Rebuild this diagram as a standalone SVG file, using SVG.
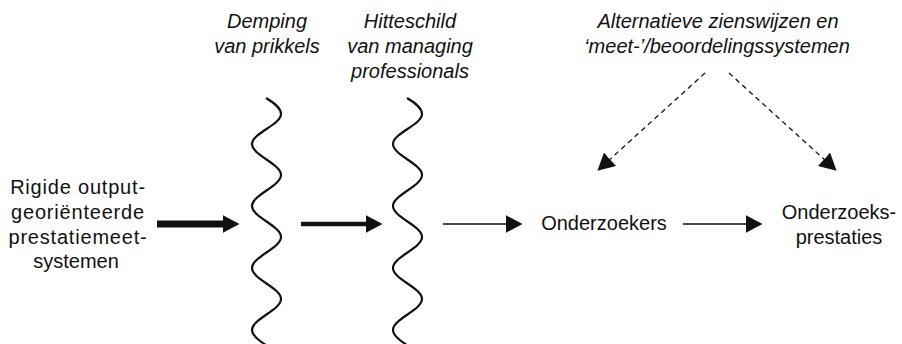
<svg xmlns="http://www.w3.org/2000/svg" width="902" height="344" viewBox="0 0 902 344">
<style>
text{font-family:"Liberation Sans",Arial,sans-serif;font-size:20px;fill:#111;text-anchor:middle}
.it{font-style:italic}
.wide{letter-spacing:0.8px}
.wave{fill:none;stroke:#111;stroke-width:2.2}
.ln{stroke:#111;fill:none}
.dash{stroke-dasharray:5 4;stroke-width:1.3}
</style>
<defs>
<marker id="ah" viewBox="0 0 17 18" refX="0.5" refY="9" markerWidth="17" markerHeight="18" markerUnits="userSpaceOnUse" orient="auto">
<path d="M0,0 L17,9 L0,18 Z" fill="#111"/>
</marker>
</defs>
<rect width="902" height="344" fill="#fff"/>
<g id="node-rigide">
<text class="wide" x="78" y="194">Rigide output-</text>
<text class="wide" x="78" y="219">georiënteerde</text>
<text class="wide" x="78" y="244">prestatiemeet-</text>
<text x="76" y="268">systemen</text>
</g>
<g id="node-demping">
<text class="it" x="267" y="28">Demping</text>
<text class="it" x="267" y="53">van prikkels</text>
<path class="wave" d="M266,98 C273.5,102.5 281,107.5 281,114 C281,125 252,133 252,144 S281,164 281,175 S252,195 252,206 S281,226 281,237 S252,257 252,268 S281,288 281,299 S252,319 252,330 S281,350 281,361"/>
</g>
<g id="node-hitteschild">
<text class="it" x="410" y="28">Hitteschild</text>
<text class="it" x="410" y="53">van managing</text>
<text class="it" x="410" y="78">professionals</text>
<path class="wave" d="M407,98 C414.5,102.5 422,107.5 422,114 C422,125 393,133 393,144 S422,164 422,175 S393,195 393,206 S422,226 422,237 S393,257 393,268 S422,288 422,299 S393,319 393,330 S422,350 422,361"/>
</g>
<g id="node-alternatieve">
<text class="it" x="718" y="28">Alternatieve zienswijzen en</text>
<text class="it" x="717" y="53">‘meet-’/beoordelingssystemen</text>
</g>
<g id="node-onderzoekers">
<text x="604" y="230">Onderzoekers</text>
</g>
<g id="node-prestaties">
<text x="839" y="219">Onderzoeks-</text>
<text x="839" y="244">prestaties</text>
</g>
<g id="connectors">
<line class="ln" x1="157" y1="224" x2="223" y2="224" stroke-width="7" marker-end="url(#ah)"/>
<line class="ln" x1="301" y1="224" x2="366" y2="224" stroke-width="4.5" marker-end="url(#ah)"/>
<line class="ln" x1="443" y1="224" x2="506" y2="224" stroke-width="1.3" marker-end="url(#ah)"/>
<line class="ln" x1="683" y1="224" x2="746" y2="224" stroke-width="1.3" marker-end="url(#ah)"/>
<line class="ln dash" x1="705" y1="73" x2="609.6" y2="159.6" marker-end="url(#ah)"/>
<line class="ln dash" x1="729" y1="73" x2="824.4" y2="159.6" marker-end="url(#ah)"/>
</g>
</svg>
